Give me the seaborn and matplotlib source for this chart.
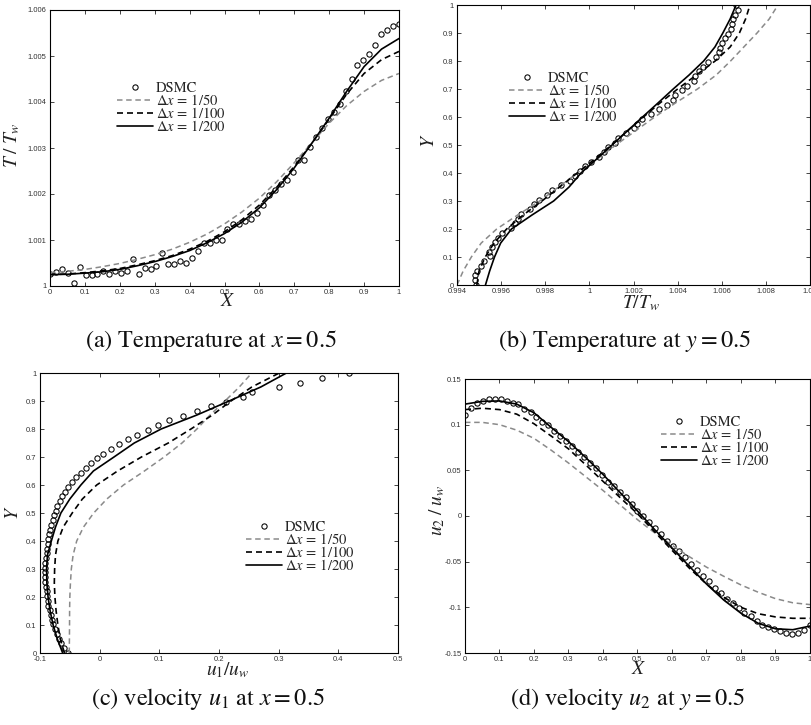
import matplotlib
matplotlib.use("Agg")
import matplotlib.pyplot as plt
import seaborn as sns

W, H = 811, 725

# ---------------- (a) temperature along y = 0.5 line, versus X ----------------
a_dsmc_x = [0.000, 0.017, 0.034, 0.051, 0.068, 0.085, 0.102, 0.119, 0.136, 0.153,
            0.169, 0.186, 0.203, 0.220, 0.237, 0.254, 0.271, 0.288, 0.305, 0.322,
            0.339, 0.356, 0.373, 0.390, 0.407, 0.424, 0.441, 0.458, 0.475, 0.492,
            0.508, 0.525, 0.542, 0.559, 0.576, 0.593, 0.610, 0.627, 0.644, 0.661,
            0.678, 0.695, 0.712, 0.729, 0.746, 0.763, 0.780, 0.797, 0.814, 0.831,
            0.847, 0.864, 0.881, 0.898, 0.915, 0.932, 0.949, 0.966, 0.983, 1.000]
a_dsmc_T = [1.000268, 1.000305, 1.000377, 1.000283, 1.000065, 1.000406, 1.000232, 1.000240, 1.000254, 1.000320,
            1.000260, 1.000327, 1.000283, 1.000334, 1.000595, 1.000268, 1.000392, 1.000370, 1.000443, 1.000726,
            1.000486, 1.000479, 1.000544, 1.000493, 1.000610, 1.000755, 1.000929, 1.000929, 1.000994, 1.001001,
            1.001234, 1.001343, 1.001343, 1.001408, 1.001451, 1.001597, 1.001771, 1.001974, 1.002083, 1.002213,
            1.002300, 1.002482, 1.002750, 1.002750, 1.003026, 1.003244, 1.003425, 1.003628, 1.003774, 1.003948,
            1.004245, 1.004492, 1.004804, 1.004913, 1.005044, 1.005240, 1.005479, 1.005559, 1.005653, 1.005689]
a_x = [0.00, 0.05, 0.10, 0.15, 0.20, 0.25, 0.30, 0.35, 0.40, 0.45, 0.50,
       0.55, 0.60, 0.65, 0.70, 0.75, 0.80, 0.85, 0.90, 0.95, 1.00]
a_T_50 = [1.00029, 1.00032, 1.00036, 1.00042, 1.00049, 1.00058, 1.00068, 1.00080, 1.00095, 1.00113, 1.00135,
          1.00161, 1.00191, 1.00227, 1.00268, 1.00311, 1.00354, 1.00392, 1.00423, 1.00447, 1.00462]
a_T_100 = [1.00025, 1.00026, 1.00029, 1.00033, 1.00038, 1.00046, 1.00055, 1.00066, 1.00080, 1.00097, 1.00118,
           1.00144, 1.00176, 1.00215, 1.00260, 1.00310, 1.00363, 1.00417, 1.00462, 1.00492, 1.00510]
a_T_200 = [1.000247, 1.000255, 1.00028, 1.00031, 1.00036, 1.00044, 1.00053, 1.00064, 1.00077, 1.00094, 1.00114,
           1.00139, 1.00170, 1.00210, 1.00257, 1.00310, 1.00365, 1.00423, 1.00477, 1.00515, 1.00538]

# ---------------- (b) temperature along x = 0.5 line, versus Y ----------------
b_dsmc_y = a_dsmc_x
b_dsmc_T = [0.99488, 0.99480, 0.99483, 0.99492, 0.99510, 0.99521, 0.99551, 0.99544, 0.99559, 0.99572,
            0.99584, 0.99603, 0.99643, 0.99662, 0.99677, 0.99692, 0.99729, 0.99750, 0.99773, 0.99810,
            0.99832, 0.99872, 0.99910, 0.99935, 0.99959, 0.99980, 1.00009, 1.00043, 1.00066, 1.00083,
            1.00114, 1.00132, 1.00166, 1.00201, 1.00215, 1.00240, 1.00280, 1.00317, 1.00350, 1.00381,
            1.00388, 1.00418, 1.00443, 1.00472, 1.00480, 1.00498, 1.00517, 1.00536, 1.00576, 1.00587,
            1.00590, 1.00600, 1.00613, 1.00630, 1.00640, 1.00648, 1.00652, 1.00659, 1.00675, 1.00664]
b_y = a_x
b_T_50 = [0.99400, 0.99428, 0.99465, 0.99510, 0.99580, 0.99675, 0.99775, 0.99860, 0.99945, 1.00035, 1.00120,
          1.00208, 1.00296, 1.00390, 1.00490, 1.00575, 1.00640, 1.00700, 1.00760, 1.00815, 1.00855]
b_T_100 = [0.99490, 0.99500, 0.99528, 0.99568, 0.99625, 0.99700, 0.99785, 0.99865, 0.99945, 1.00025, 1.00100,
           1.00172, 1.00245, 1.00320, 1.00400, 1.00485, 1.00570, 1.00638, 1.00680, 1.00708, 1.00728]
b_T_200 = [0.99529, 0.99548, 0.99570, 0.99598, 0.99647, 0.99740, 0.99838, 0.99908, 0.99962, 1.00033, 1.00103,
           1.00172, 1.00241, 1.00311, 1.00380, 1.00452, 1.00518, 1.00569, 1.00605, 1.00638, 1.00665]

# ---------------- (c) horizontal velocity along x = 0.5, versus Y ----------------
c_dsmc_y = a_dsmc_x
c_dsmc_u = [-0.053, -0.059, -0.064, -0.068, -0.072, -0.075, -0.078, -0.080, -0.082, -0.084,
            -0.086, -0.087, -0.088, -0.089, -0.090, -0.091, -0.091, -0.0915, -0.091, -0.091,
            -0.090, -0.089, -0.088, -0.087, -0.086, -0.085, -0.083, -0.081, -0.079, -0.077,
            -0.074, -0.071, -0.067, -0.0636, -0.0581, -0.0526, -0.0459, -0.0397, -0.0318, -0.0234,
            -0.0145, -0.005, 0.0061, 0.0185, 0.0324, 0.047, 0.0631, 0.0805, 0.0972, 0.1167,
            0.1391, 0.1626, 0.1866, 0.2112, 0.2397, 0.2558, 0.301, 0.3357, 0.373, 0.418]
c_y = a_x
c_u_50 = [-0.051, -0.0507, -0.0505, -0.0504, -0.050, -0.049, -0.0475, -0.0445, -0.0385, -0.027, -0.010,
          0.012, 0.040, 0.075, 0.108, 0.138, 0.163, 0.185, 0.210, 0.234, 0.255]
c_u_100 = [-0.059, -0.066, -0.070, -0.073, -0.075, -0.076, -0.0755, -0.074, -0.070, -0.061, -0.046,
           -0.029, -0.005, 0.030, 0.070, 0.115, 0.153, 0.189, 0.220, 0.255, 0.301]
c_u_200 = [-0.062, -0.071, -0.078, -0.083, -0.0865, -0.0885, -0.089, -0.0875, -0.081, -0.074, -0.065,
           -0.050, -0.0315, -0.0105, 0.024, 0.058, 0.103, 0.163, 0.217, 0.270, 0.313]

# ---------------- (d) vertical velocity along y = 0.5, versus X ----------------
d_dsmc_x = [0.000, 0.017, 0.034, 0.052, 0.069, 0.086, 0.103, 0.121, 0.138, 0.155,
            0.172, 0.190, 0.207, 0.224, 0.241, 0.259, 0.276, 0.293, 0.310, 0.328,
            0.345, 0.362, 0.379, 0.397, 0.414, 0.431, 0.448, 0.466, 0.483, 0.500,
            0.517, 0.534, 0.552, 0.569, 0.586, 0.603, 0.621, 0.638, 0.655, 0.672,
            0.690, 0.707, 0.724, 0.741, 0.759, 0.776, 0.793, 0.810, 0.828, 0.845,
            0.862, 0.879, 0.897, 0.914, 0.931, 0.948, 0.966, 0.983, 1.000]
d_dsmc_v = [0.1106, 0.1180, 0.1234, 0.1263, 0.1278, 0.1281, 0.1281, 0.1263, 0.1241, 0.1223,
            0.1168, 0.1136, 0.1088, 0.1034, 0.0997, 0.0935, 0.0877, 0.0826, 0.0767, 0.0705,
            0.0643, 0.0578, 0.0523, 0.0450, 0.0377, 0.0323, 0.0261, 0.0206, 0.0133, 0.0060,
            0.0002, -0.0071, -0.0133, -0.0195, -0.0272, -0.0323, -0.0388, -0.0454, -0.0523, -0.0589,
            -0.0654, -0.0716, -0.0789, -0.0844, -0.0909, -0.0953, -0.1008, -0.1063, -0.1100, -0.1154,
            -0.1191, -0.1216, -0.1238, -0.1263, -0.1281, -0.1292, -0.1281, -0.1252, -0.1191]
d_x = a_x
d_v_50 = [0.1025, 0.1025, 0.1000, 0.0940, 0.0850, 0.0720, 0.0580, 0.0430, 0.0280, 0.0120, -0.0040,
          -0.0185, -0.0320, -0.0445, -0.0560, -0.0660, -0.0755, -0.0835, -0.0905, -0.0950, -0.0970]
d_v_100 = [0.1165, 0.1180, 0.1165, 0.1115, 0.1010, 0.0875, 0.0735, 0.0560, 0.0380, 0.0200, 0.0025,
           -0.0175, -0.0375, -0.0570, -0.0745, -0.0890, -0.1000, -0.1070, -0.1105, -0.1120, -0.1120]
d_v_200 = [0.1225, 0.1255, 0.1260, 0.1225, 0.1130, 0.0970, 0.0815, 0.0640, 0.0455, 0.0255, 0.0055,
           -0.0150, -0.0350, -0.0550, -0.0745, -0.0920, -0.1065, -0.1175, -0.1235, -0.1245, -0.1205]

series_labels = ["DSMC", r"$\Delta x \,=\, 1/50$", r"$\Delta x \,=\, 1/100$", r"$\Delta x \,=\, 1/200$"]

sns.set_style("ticks")
plt.rcParams.update({
    "font.family": ["Liberation Sans", "DejaVu Sans"],
    "mathtext.fontset": "stix",
    "axes.unicode_minus": False,
    "axes.linewidth": 0.8,
    "axes.edgecolor": "black",
})

fig = plt.figure(figsize=(W / 100, H / 100), dpi=100)
fig.patch.set_facecolor("white")


def add_axes(left, top, right, bottom):
    return fig.add_axes([left / W, 1 - bottom / H, (right - left) / W, (bottom - top) / H])


GREY = "#8a8a8a"
DASH = (0, (3.6, 2.4))


def draw_panel(ax, dsmc_a, dsmc_b, grid, s50, s100, s200, vertical):
    """Draw DSMC circles plus the three mesh curves; vertical=True means value on x, position on y."""
    def xy(p, v):
        return (v, p) if vertical else (p, v)

    x, y = xy(dsmc_a, dsmc_b)
    sns.lineplot(x=x, y=y, ax=ax, sort=False, estimator=None, marker="o", linestyle="none",
                 mfc="none", mec="black", ms=3.8, mew=0.75, label=series_labels[0])
    x, y = xy(grid, s50)
    sns.lineplot(x=x, y=y, ax=ax, sort=False, estimator=None, color=GREY, lw=1.1,
                 linestyle=DASH, label=series_labels[1])
    x, y = xy(grid, s100)
    sns.lineplot(x=x, y=y, ax=ax, sort=False, estimator=None, color="black", lw=1.2,
                 linestyle=DASH, label=series_labels[2])
    x, y = xy(grid, s200)
    sns.lineplot(x=x, y=y, ax=ax, sort=False, estimator=None, color="black", lw=1.2,
                 linestyle="-", label=series_labels[3])


def style_axes(ax, xticks, xlabels, yticks, ylabels, xlim, ylim):
    ax.set_xlim(*xlim)
    ax.set_ylim(*ylim)
    ax.set_xticks(xticks)
    ax.set_xticklabels(xlabels)
    ax.set_yticks(yticks)
    ax.set_yticklabels(ylabels)
    ax.tick_params(direction="in", length=3, width=0.6, labelsize=5.5, top=True, right=True,
                   pad=2.5, labelcolor="#333333")
    for sp in ax.spines.values():
        sp.set_visible(True)
        sp.set_linewidth(0.8)


def put_labels(ax, xl, xpos, yl, ypos, size=14):
    ax.set_xlabel(xl, fontsize=size, color="#222222")
    ax.xaxis.set_label_coords(xpos[0] / W, 1 - xpos[1] / H, transform=fig.transFigure)
    ax.xaxis.label.set_verticalalignment("center")
    ax.set_ylabel(yl, fontsize=size, color="#222222")
    ax.yaxis.set_label_coords(ypos[0] / W, 1 - ypos[1] / H, transform=fig.transFigure)
    ax.yaxis.label.set_verticalalignment("center")


def put_legend(ax, px, py):
    ax.legend(loc="upper left", bbox_to_anchor=(px / W, 1 - py / H), bbox_transform=fig.transFigure,
              frameon=False, prop={"family": "STIXGeneral", "size": 10.5}, handlelength=2.5,
              handletextpad=0.15, labelspacing=-0.15, borderpad=0, borderaxespad=0, numpoints=1)


unit_ticks = [0, 0.1, 0.2, 0.3, 0.4, 0.5, 0.6, 0.7, 0.8, 0.9, 1.0]
unit_labels = ["0", "0.1", "0.2", "0.3", "0.4", "0.5", "0.6", "0.7", "0.8", "0.9", "1"]

# (a)
ax_a = add_axes(50, 10, 399, 286)
draw_panel(ax_a, a_dsmc_x, a_dsmc_T, a_x, a_T_50, a_T_100, a_T_200, vertical=False)
style_axes(ax_a, unit_ticks, unit_labels,
           [1.0, 1.001, 1.002, 1.003, 1.004, 1.005, 1.006],
           ["1", "1.001", "1.002", "1.003", "1.004", "1.005", "1.006"], (0, 1), (1.0, 1.006))
put_labels(ax_a, r"$X$", (228, 302), r"$T\;/\;T_w$", (12, 145))
put_legend(ax_a, 117, 82)

# (b)
ax_b = add_axes(457, 5, 810, 285)
draw_panel(ax_b, b_dsmc_y, b_dsmc_T, b_y, b_T_50, b_T_100, b_T_200, vertical=True)
style_axes(ax_b, [0.994, 0.996, 0.998, 1.0, 1.002, 1.004, 1.006, 1.008, 1.010],
           ["0.994", "0.996", "0.998", "1", "1.002", "1.004", "1.006", "1.008", "1.01"],
           unit_ticks, unit_labels, (0.994, 1.010), (0, 1))
put_labels(ax_b, r"$T/T_w$", (641, 303), r"$Y$", (430, 141))
put_legend(ax_b, 509, 72)

# (c)
ax_c = add_axes(40, 373, 398, 653)
draw_panel(ax_c, c_dsmc_y, c_dsmc_u, c_y, c_u_50, c_u_100, c_u_200, vertical=True)
style_axes(ax_c, [-0.1, 0, 0.1, 0.2, 0.3, 0.4, 0.5], ["-0.1", "0", "0.1", "0.2", "0.3", "0.4", "0.5"],
           unit_ticks, unit_labels, (-0.1, 0.5), (0, 1))
put_labels(ax_c, r"$u_1/u_w$", (228, 670), r"$Y$", (13, 513))
put_legend(ax_c, 246, 521)

# (d)
ax_d = add_axes(465, 379, 810, 653)
draw_panel(ax_d, d_dsmc_x, d_dsmc_v, d_x, d_v_50, d_v_100, d_v_200, vertical=False)
style_axes(ax_d, unit_ticks, unit_labels,
           [-0.15, -0.1, -0.05, 0, 0.05, 0.1, 0.15],
           ["-0.15", "-0.1", "-0.05", "0", "0.05", "0.1", "0.15"], (0, 1), (-0.15, 0.15))
put_labels(ax_d, r"$X$", (639, 670), r"$u_2\;/\;u_w$", (437, 510))
put_legend(ax_d, 661, 416)

# sub-figure captions
captions = [("(a) Temperature at $x = 0.5$", 211, 341),
            ("(b) Temperature at $y = 0.5$", 625, 341),
            ("(c) velocity $u_1$ at $x = 0.5$", 208, 699),
            ("(d) velocity $u_2$ at $y = 0.5$", 628, 699)]
for text, cx, cy in captions:
    fig.text(cx / W, 1 - cy / H, text, ha="center", va="center", fontsize=17.5,
             family="STIXGeneral", color="#111111")

fig.savefig("out.png", dpi=100)
